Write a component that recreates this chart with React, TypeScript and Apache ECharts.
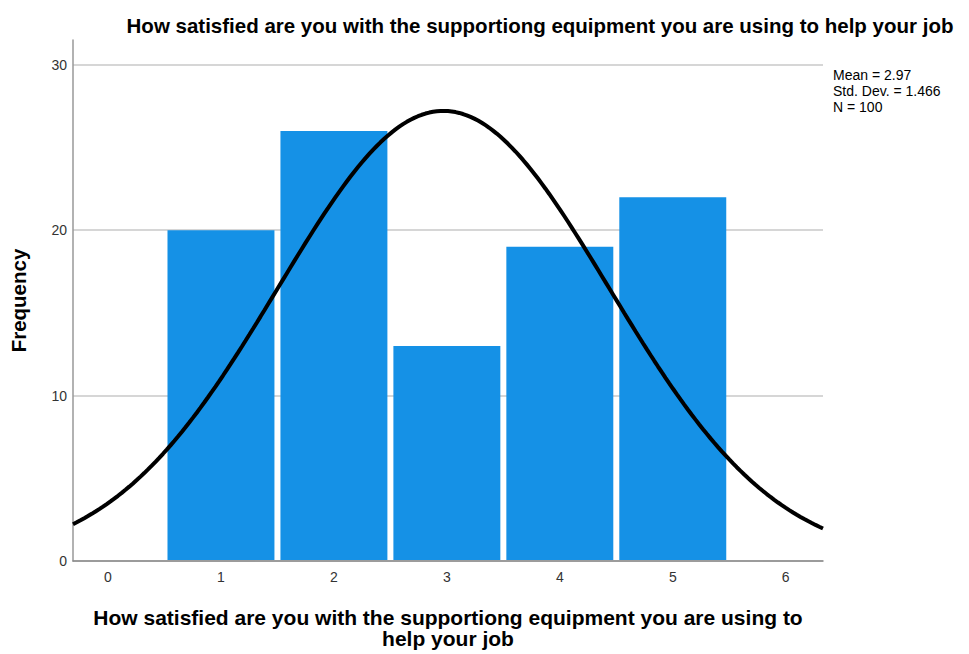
import React, { useEffect, useRef } from "react";
import * as echarts from "echarts";

const categories = [1, 2, 3, 4, 5];
const frequencies = [20, 26, 13, 19, 22];
const xTickValues = [0, 1, 2, 3, 4, 5, 6];
const yTickValues = [0, 10, 20, 30];
const MEAN = 2.97;
const STD = 1.466;
const N = 100;
const BIN_WIDTH = 1;
const titleText = "How satisfied are you with the supportiong equipment you are using to help your job";
const xAxisTitle = "How satisfied are you with the supportiong equipment you are using to\nhelp your job";
const yAxisTitle = "Frequency";
const statsLines = ["Mean = 2.97", "Std. Dev. = 1.466", "N = 100"];

const X_MIN = -0.31;
const X_MAX = 6.33;

function normalCurve(): number[][] {
  const pts: number[][] = [];
  const steps = 200;
  for (let i = 0; i <= steps; i++) {
    const x = X_MIN + ((X_MAX - X_MIN) * i) / steps;
    const z = (x - MEAN) / STD;
    const y = ((N * BIN_WIDTH) / (STD * Math.sqrt(2 * Math.PI))) * Math.exp(-0.5 * z * z);
    pts.push([x, y]);
  }
  return pts;
}

export default function App() {
  const ref = useRef<HTMLDivElement>(null);
  useEffect(() => {
    if (!ref.current) return;
    const chart = echarts.init(ref.current, null, { renderer: "svg" });
    const sans = '"Liberation Sans", Arial, sans-serif';
    chart.setOption({
      animation: false,
      backgroundColor: "#ffffff",
      title: {
        text: titleText,
        left: 535,
        top: 10,
        textAlign: "center",
        textStyle: { fontFamily: sans, fontSize: 20.5, fontWeight: "bold", color: "#000" },
      },
      graphic: [
        {
          type: "text",
          left: 833,
          top: 67,
          style: {
            text: statsLines.join("\n"),
            fontFamily: sans,
            fontSize: 14,
            lineHeight: 16,
            fill: "#000",
          },
        },
      ],
      grid: { left: 72, right: 146, top: 40, bottom: 90, containLabel: false },
      xAxis: {
        type: "value",
        min: X_MIN,
        max: X_MAX,
        name: xAxisTitle,
        nameLocation: "middle",
        nameGap: 46,
        nameTextStyle: { fontFamily: sans, fontSize: 21, fontWeight: "bold", color: "#000", lineHeight: 21 },
        axisLine: { show: true, onZero: false, lineStyle: { color: "#888", width: 1.5 } },
        axisTick: { show: false },
        splitLine: { show: false },
        axisLabel: {
          customValues: xTickValues,
          fontFamily: sans,
          fontSize: 14,
          color: "#333",
          margin: 9,
        },
      },
      yAxis: {
        type: "value",
        min: 0,
        max: 31.5,
        interval: 10,
        name: yAxisTitle,
        nameLocation: "middle",
        nameGap: 44,
        nameTextStyle: { fontFamily: sans, fontSize: 20.5, fontWeight: "bold", color: "#000" },
        axisLine: { show: true, onZero: false, lineStyle: { color: "#999", width: 1.5 } },
        axisTick: { show: false },
        splitLine: { show: true, showMaxLine: false, lineStyle: { color: "#c8c8c8", width: 1.5 } },
        axisLabel: {
          customValues: yTickValues,
          fontFamily: sans,
          fontSize: 14,
          color: "#333",
          margin: 6,
        },
      },
      series: [
        {
          type: "custom",
          data: categories.map((c, i) => [c, frequencies[i]]),
          renderItem: (params: any, api: any) => {
            const x = api.value(0);
            const y = api.value(1);
            const p1 = api.coord([x - BIN_WIDTH / 2, y]);
            const p2 = api.coord([x + BIN_WIDTH / 2, 0]);
            return {
              type: "rect",
              shape: { x: p1[0] + 3, y: p1[1], width: p2[0] - p1[0] - 6, height: p2[1] - p1[1] - 1 },
              style: { fill: "#1591E6" },
            };
          },
          z: 2,
        },
        {
          type: "line",
          data: normalCurve(),
          showSymbol: false,
          smooth: false,
          lineStyle: { color: "#000", width: 4 },
          z: 3,
        },
      ],
    });
    return () => chart.dispose();
  }, []);
  return (
    <div
      ref={ref}
      style={{ position: "absolute", left: 0, top: 0, width: 969, height: 654 }}
    />
  );
}
